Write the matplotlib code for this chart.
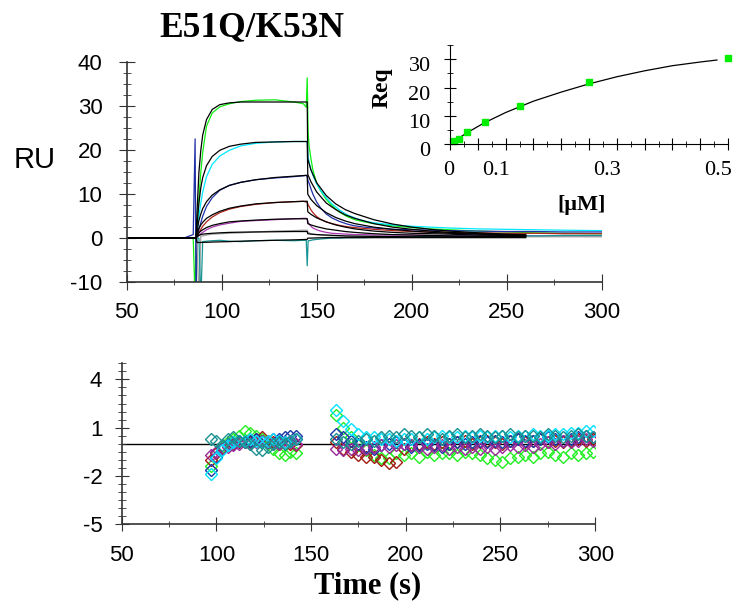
import matplotlib
matplotlib.use("Agg")
import matplotlib.pyplot as plt
import matplotlib.transforms as mtransforms
from matplotlib.ticker import MultipleLocator, FixedLocator, FuncFormatter

plt.rcParams["font.family"] = ["Liberation Sans", "DejaVu Sans"]
plt.rcParams["axes.unicode_minus"] = False
SERIF = ["Liberation Serif", "DejaVu Serif"]

# --- sensorgram data (RU), shared time base ---------------------------------
data_time = [50, 60, 70, 80, 85, 86, 86.5,
             87, 88, 89, 90, 92, 95, 99, 104, 110, 118, 128, 138, 143, 144.5,
             145, 145.5, 146, 147, 148, 150, 152, 155, 158, 162, 166, 170, 175,
             180, 190, 200, 210, 220, 235, 250, 265, 280, 300]

data_green = [0, 0.1, 0, 0.1, 0, -14, 0.5,
              2, 9, 15, 19.5, 25.5, 28.5, 29.9, 30.6, 31.1, 31.4, 31.5, 31.0, 30.6, 29.8,
              36.5, 24, 21, 18, 15.5, 12.5, 10.8, 8.8, 7.4, 5.9, 4.9, 4.2, 3.7,
              3.3, 2.8, 2.4, 2.1, 1.9, 1.6, 1.4, 1.2, 1.1, 1.0]
data_cyan = [0, 0, 0, 0, 0, 0, 0,
             1, 5, 8, 10.5, 14, 16.8, 18.7, 20, 21, 21.6, 21.9, 22.0, 22.0, 22.0,
             22, 18.5, 17.3, 15.5, 14.3, 12.3, 10.9, 9.2, 7.8, 6.4, 5.3, 4.6, 3.9,
             3.5, 3.0, 2.7, 2.5, 2.3, 2.1, 2.0, 1.9, 1.8, 1.7]
data_blue = [0, 0, 0, 0, 0.8, 22.6, -14,
             0.5, 2, 3.5, 5, 7.2, 9.2, 10.9, 12, 12.7, 13.3, 13.7, 14.0, 14.2, 14.3,
             14.0, 13.0, 12.5, 11.2, 10.0, 8.2, 6.9, 5.5, 4.6, 3.8, 3.2, 2.8, 2.5,
             2.3, 2.0, 1.9, 1.8, 1.7, 1.6, 1.5, 1.5, 1.4, 1.4]
data_red = [0, 0, 0, 0, 0, 0, 0,
            0.3, 1.2, 2, 2.7, 3.7, 4.8, 5.8, 6.6, 7.2, 7.7, 8.1, 8.3, 8.4, 8.2,
            8.2, 7.6, 7.2, 6.4, 5.8, 4.9, 4.3, 3.7, 3.3, 2.9, 2.6, 2.4, 2.2,
            2.0, 1.7, 1.5, 1.4, 1.3, 1.2, 1.1, 1.1, 1.0, 1.0]
data_magenta = [0, 0, 0, 0, 0, 0, 0,
                0.2, 0.6, 1.0, 1.3, 1.9, 2.5, 3.0, 3.4, 3.8, 4.0, 4.2, 4.4, 4.5, 4.5,
                4.4, 3.6, 3.2, 2.7, 2.3, 1.9, 1.6, 1.3, 1.1, 1.0, 0.9, 0.8, 0.8,
                0.7, 0.7, 0.7, 0.6, 0.6, 0.6, 0.6, 0.5, 0.5, 0.5]
data_gray = [0, 0, 0, 0, 0, 0, 0,
             0, -14, 0.4, 0.5, 0.7, 0.9, 1.0, 1.1, 1.2, 1.4, 1.6, 1.7, 1.8, 1.8,
             1.8, 1.3, 1.2, 1.0, 0.9, 0.8, 0.7, 0.6, 0.5, 0.5, 0.4, 0.4, 0.4,
             0.4, 0.3, 0.3, 0.3, 0.3, 0.3, 0.3, 0.3, 0.3, 0.3]
data_teal = [0, 0, 0, 0, 0, 0, 0,
             0, 0, -14, -0.8, -0.7, -0.6, -0.5, -0.7, -0.8, -0.6, -0.5, -0.6, -0.5, -0.5,
             -6.3, -0.6, -0.6, -0.5, -0.4, -0.3, -0.2, -0.1, 0.0, 0.0, 0.1, 0.1, 0.1,
             0.2, 0.2, 0.3, 0.3, 0.4, 0.4, 0.5, 0.5, 0.6, 0.6]

# --- global 1:1 fit curves --------------------------------------------------
fit_time = [50, 86.5, 87, 88, 89, 90, 92, 95, 99, 104, 110, 118, 128, 138, 145,
            145.3, 147, 150, 155, 160, 165, 170, 180, 190, 200, 210, 220, 235, 250, 260]

fit_1 = [0, 0, 6, 15, 20, 23.5, 27, 29.3, 30.4, 30.8, 31.0, 31.0, 31.0, 31.0, 31.0,
         18.0, 15.5, 12.6, 9.7, 7.8, 6.5, 5.6, 4.2, 3.2, 2.5, 2.0, 1.6, 1.2, 0.9, 0.8]
fit_2 = [0, 0, 3, 8, 11.5, 13.8, 16.5, 18.6, 20.0, 20.9, 21.4, 21.8, 21.9, 22.0, 22.0,
         14.5, 12.8, 10.5, 8.0, 6.5, 5.3, 4.5, 3.3, 2.5, 2.0, 1.6, 1.3, 1.0, 0.8, 0.7]
fit_3 = [0, 0, 1.5, 4, 5.5, 6.7, 8.3, 9.8, 11.0, 12.0, 12.7, 13.3, 13.8, 14.1, 14.3,
         10.0, 8.8, 7.4, 5.8, 4.7, 3.9, 3.3, 2.5, 2.0, 1.6, 1.3, 1.1, 0.9, 0.7, 0.6]
fit_4 = [0, 0, 0.9, 2.2, 3.0, 3.6, 4.5, 5.3, 6.1, 6.8, 7.3, 7.8, 8.1, 8.3, 8.4,
         6.0, 5.4, 4.6, 3.7, 3.0, 2.5, 2.1, 1.6, 1.3, 1.1, 1.0, 0.9, 0.7, 0.6, 0.5]
fit_5 = [0, 0, 0.5, 1.2, 1.6, 1.9, 2.4, 2.9, 3.3, 3.7, 3.9, 4.1, 4.3, 4.4, 4.4,
         3.3, 3.0, 2.6, 2.1, 1.8, 1.5, 1.3, 1.0, 0.8, 0.7, 0.6, 0.5, 0.4, 0.4, 0.4]
fit_6 = [0, 0, 0.3, 0.6, 0.8, 0.9, 1.0, 1.1, 1.2, 1.3, 1.35, 1.4, 1.45, 1.5, 1.5,
         1.0, 0.9, 0.8, 0.7, 0.6, 0.5, 0.45, 0.4, 0.35, 0.3, 0.3, 0.3, 0.3, 0.3, 0.3]
fit_7 = [0, 0, -1.0, -1.0, -1.0, -0.95, -0.95, -0.9, -0.85, -0.8, -0.7, -0.6, -0.5, -0.4, -0.3,
         0.0, 0.0, 0.05, 0.1, 0.1, 0.1, 0.1, 0.1, 0.1, 0.1, 0.1, 0.1, 0.1, 0.1, 0.1]

# --- steady-state binding (inset) -------------------------------------------
conc_um = [0.0078, 0.0156, 0.03125, 0.0625, 0.125, 0.25, 0.5]
req = [1.3, 2.0, 4.4, 8.0, 13.6, 21.8, 30.4]
req_fit_conc = [0.008, 0.03, 0.06, 0.1, 0.15, 0.2, 0.25, 0.3, 0.35, 0.4, 0.45, 0.48]
req_fit = [1.2, 4.0, 7.4, 11.2, 15.2, 18.4, 21.3, 23.8, 25.9, 27.7, 29.0, 29.7]

# --- residuals --------------------------------------------------------------
res_time_assoc = list(range(97, 143, 3))
res_time_diss = list(range(163, 300, 4))

res_green = [-1.4, -0.6, -0.2, 0.1, 0.3, 0.5, 0.8, 0.7, 0.5, 0.3, 0.0, -0.3, -0.6, -0.7, -0.5, -0.6,
             1.8, 1.0, 0.4, -0.1, -0.4, -0.7, -0.9, -0.9, -0.6, -0.7, -0.6, -0.8, -0.5, -0.7, -0.6,
             -0.6, -0.7, -0.5, -0.6, -0.7, -0.9, -1.0, -1.1, -0.9, -0.8, -0.7, -0.8, -0.6, -0.5,
             -0.7, -0.8, -0.6, -0.7, -0.6, -0.5]
res_cyan = [-1.9, -0.9, -0.4, -0.1, 0.1, 0.2, 0.2, 0.3, 0.2, 0.1, 0.2, 0.3, 0.2, 0.1, 0.2, 0.3,
            2.1, 1.4, 0.9, 0.6, 0.4, 0.4, 0.3, 0.3, 0.2, 0.3, 0.3, 0.4, 0.3, 0.4, 0.5,
            0.4, 0.4, 0.5, 0.4, 0.5, 0.4, 0.5, 0.5, 0.4, 0.5, 0.5, 0.6, 0.5, 0.5,
            0.6, 0.6, 0.7, 0.7, 0.8, 0.8]
res_blue = [-1.6, -0.8, -0.3, 0.0, 0.1, 0.2, 0.1, 0.2, 0.3, 0.2, 0.1, 0.3, 0.3, 0.4, 0.5, 0.5,
            0.6, 0.4, 0.2, 0.0, -0.2, -0.3, -0.1, 0.0, 0.1, 0.0, -0.2, -0.1, 0.0, -0.1, -0.2,
            0.0, 0.1, 0.0, 0.1, 0.2, 0.1, 0.2, 0.1, 0.2, 0.3, 0.2, 0.2, 0.3, 0.4,
            0.3, 0.2, 0.3, 0.4, 0.5, 0.4]
res_red = [-1.0, -0.6, -0.3, -0.1, 0.0, 0.1, 0.2, 0.1, 0.3, 0.4, 0.2, 0.1, 0.0, 0.1, 0.0, -0.1,
           0.1, -0.3, -0.5, -0.7, -0.8, -0.8, -1.0, -1.2, -1.1, -0.3, -0.1, 0.0, 0.1, 0.0, 0.1,
           0.0, 0.1, 0.2, 0.0, 0.1, 0.2, 0.1, 0.0, 0.2, 0.3, 0.1, 0.2, 0.3, 0.1,
           0.2, 0.1, 0.2, 0.3, 0.2, 0.3]
res_purple = [-0.7, -0.5, -0.3, -0.2, -0.1, 0.0, 0.1, 0.0, 0.1, 0.2, 0.1, 0.0, 0.0, 0.1, 0.1, 0.0,
              -0.3, -0.4, -0.3, -0.4, -0.3, -0.2, -0.1, -0.2, -0.1, 0.0, -0.1, -0.2, -0.3, -0.2, -0.1,
              -0.3, -0.2, -0.3, -0.2, -0.3, -0.2, -0.3, -0.2, -0.1, -0.2, -0.1, -0.2, 0.0, 0.1,
              0.0, 0.2, 0.1, 0.2, 0.3, 0.2]
res_teal = [0.3, 0.2, -0.1, 0.3, 0.4, 0.2, 0.1, 0.0, -0.3, -0.4, -0.2, 0.0, 0.1, 0.0, 0.2, 0.3,
            0.3, 0.1, 0.0, 0.2, 0.3, 0.2, 0.4, 0.5, 0.4, 0.6, 0.5, 0.4, 0.6, 0.5, 0.3,
            0.5, 0.6, 0.4, 0.5, 0.6, 0.5, 0.4, 0.5, 0.6, 0.4, 0.5, 0.5, 0.4, 0.6,
            0.5, 0.4, 0.5, 0.6, 0.5, 0.4]

GREEN, CYAN, BLUE = "#10ee10", "#00e8ff", "#2030a8"
RED, MAGENTA, GRAY, TEAL = "#b0241a", "#a838b0", "#a0a0a0", "#189494"
SPINE = "#333333"

fig = plt.figure(figsize=(7.38, 6.12), dpi=100)

# ---------------------------------------------------------------- sensorgrams
ax = fig.add_axes([0.1717, 0.5392, 0.6436, 0.3587])
for values, color in [(data_green, GREEN), (data_cyan, CYAN), (data_blue, BLUE),
                      (data_red, RED), (data_magenta, MAGENTA), (data_gray, GRAY),
                      (data_teal, TEAL)]:
    ax.plot(data_time, values, color=color, lw=0.9)
for values in [fit_1, fit_2, fit_3, fit_4, fit_5, fit_6, fit_7]:
    ax.plot(fit_time, values, color="black", lw=0.9)

ax.set_xlim(50, 300)
ax.set_ylim(-10, 40)
ax.xaxis.set_major_locator(MultipleLocator(50))
ax.xaxis.set_minor_locator(MultipleLocator(25))
ax.yaxis.set_major_locator(MultipleLocator(10))
ax.yaxis.set_minor_locator(MultipleLocator(2.5))
for side in ["top", "right"]:
    ax.spines[side].set_visible(False)
for side in ["left", "bottom"]:
    ax.spines[side].set_color(SPINE)
    ax.spines[side].set_linewidth(1.2)
ax.tick_params(axis="both", which="both", direction="inout", color=SPINE, labelsize=16)
ax.tick_params(axis="x", which="major", length=11, pad=9)
ax.tick_params(axis="x", which="minor", length=5)
ax.tick_params(axis="y", which="major", length=11, pad=12)
ax.tick_params(axis="y", which="minor", length=6)
ax.patch.set_alpha(0)

fig.text(34.5 / 738, 1 - 168 / 612, "RU", fontsize=21, ha="center", va="baseline")
fig.text(252 / 738, 1 - 36.7 / 612, "E51Q/K53N", family=SERIF, fontsize=25.5,
         fontweight="bold", ha="center", va="baseline")

# ---------------------------------------------------------------- Req inset
ins = fig.add_axes([0.6098, 0.7642, 0.3767, 0.1623])
ins.patch.set_alpha(0)
ins.plot(req_fit_conc, req_fit, color="black", lw=0.9)
ins.plot(conc_um, req, ls="none", marker="s", ms=5, color="#00ee00", clip_on=False)
ins.set_xlim(0, 0.5)
ins.set_ylim(0, 35)
inset_labels = {0.0: "0", 0.1: "0.1", 0.3: "0.3", 0.5: "0.5"}
ins.xaxis.set_major_locator(FixedLocator([i * 0.05 for i in range(11)]))
ins.xaxis.set_major_formatter(FuncFormatter(lambda v, pos: inset_labels.get(round(v, 2), "")))
ins.xaxis.set_minor_locator(MultipleLocator(0.025))
ins.yaxis.set_major_locator(MultipleLocator(10))
ins.yaxis.set_minor_locator(MultipleLocator(5))
for side in ["top", "right"]:
    ins.spines[side].set_visible(False)
ins.tick_params(axis="both", which="both", direction="inout")
ins.tick_params(axis="both", which="major", length=8)
ins.tick_params(axis="both", which="minor", length=5)
ins.tick_params(axis="x", pad=8)
ins.tick_params(axis="y", pad=10)
x_shift = mtransforms.ScaledTranslation(4 / 100, 0, fig.dpi_scale_trans)
y_shift = mtransforms.ScaledTranslation(0, -5 / 100, fig.dpi_scale_trans)
for lbl in ins.get_xticklabels():
    lbl.set_fontfamily(SERIF)
    lbl.set_fontsize(16)
    lbl.set_horizontalalignment("right")
    lbl.set_transform(lbl.get_transform() + x_shift)
for lbl in ins.get_yticklabels():
    lbl.set_fontfamily(SERIF)
    lbl.set_fontsize(16)
    lbl.set_transform(lbl.get_transform() + y_shift)

fig.text(381.7 / 738, 1 - 88 / 612, "Req", family=SERIF, fontsize=17,
         fontweight="bold", rotation=90, ha="center", va="center")
fig.text(581.5 / 738, 1 - 210 / 612, "[\u03bcM]", family=SERIF, fontsize=16,
         fontweight="bold", ha="center", va="baseline")

# ---------------------------------------------------------------- residuals
res = fig.add_axes([0.1649, 0.1433, 0.6416, 0.2631])
res_time = res_time_assoc + res_time_diss
res.axhline(0, color="black", lw=1.0, zorder=1)
for values, color in [(res_green, "#22ee22"), (res_red, "#a01c10"), (res_blue, "#1838a8"),
                      (res_purple, "#9a2a9a"), (res_cyan, "#00e0ff"), (res_teal, "#1a9090")]:
    res.plot(res_time, values, ls="none", marker="D", ms=6.5, mfc="none",
             mec=color, mew=1.0, zorder=2)
res.set_xlim(50, 300)
res.set_ylim(-5, 5)
res.xaxis.set_major_locator(MultipleLocator(50))
res.xaxis.set_minor_locator(MultipleLocator(25))
res.yaxis.set_major_locator(FixedLocator([-5, -2, 1, 4]))
res.yaxis.set_minor_locator(MultipleLocator(0.5))
for side in ["top", "right"]:
    res.spines[side].set_visible(False)
for side in ["left", "bottom"]:
    res.spines[side].set_color(SPINE)
    res.spines[side].set_linewidth(1.2)
res.tick_params(axis="both", which="both", direction="inout", color=SPINE, labelsize=16)
res.tick_params(axis="x", which="major", length=10, pad=10)
res.tick_params(axis="x", which="minor", length=5)
res.tick_params(axis="y", which="major", length=10, pad=9)
res.tick_params(axis="y", which="minor", length=6)

fig.text(368 / 738, 1 - 593 / 612, "Time (s)", family=SERIF, fontsize=22,
         fontweight="bold", ha="center", va="baseline")

fig.savefig("out.png", dpi=100)
